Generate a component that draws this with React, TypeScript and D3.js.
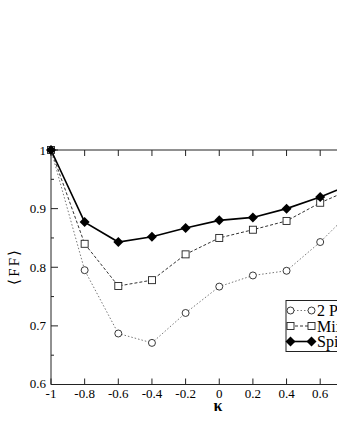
import React, { useRef, useEffect } from 'react';
import * as d3 from 'd3';

// kappa values and the three fidelity series
const kappa = [-1, -0.8, -0.6, -0.4, -0.2, 0, 0.2, 0.4, 0.6, 0.8, 1];
const twoPhoton = [1.0, 0.795, 0.687, 0.671, 0.722, 0.767, 0.786, 0.794, 0.843, 0.9, 0.95];
const mixed = [1.0, 0.84, 0.768, 0.778, 0.822, 0.85, 0.864, 0.879, 0.91, 0.935, 0.96];
const spin = [1.0, 0.877, 0.843, 0.852, 0.867, 0.88, 0.885, 0.9, 0.92, 0.943, 0.97];

const xTicks = [-1, -0.8, -0.6, -0.4, -0.2, 0, 0.2, 0.4, 0.6, 0.8, 1];
const yTicks = [0.6, 0.7, 0.8, 0.9, 1];
const yMinor = [0.65, 0.75, 0.85, 0.95];
const legendLabels = ['2 Photon', 'Mixed', 'Spin'];

const App = () => {
  const svgRef = useRef(null);

  useEffect(() => {
    const width = 337;
    const height = 436;
    const svg = d3.select(svgRef.current);
    svg.selectAll('*').remove();
    svg.attr('width', width).attr('height', height);

    const x = d3.scaleLinear().domain([-1, 1]).range([51, 387.5]);
    const y = d3.scaleLinear().domain([0.6, 1]).range([384.5, 150]);
    const font = 'Liberation Serif, Times New Roman, serif';
    const frame = '#222';

    // frame (right side falls outside the picture)
    svg.append('path')
      .attr('d', `M${x(1)},${y(1)}H${x(-1)}V${y(0.6)}H${x(1)}`)
      .attr('fill', 'none')
      .attr('stroke', frame)
      .attr('stroke-width', 1);

    // x ticks, bottom and top, pointing in
    xTicks.forEach(t => {
      svg.append('line')
        .attr('x1', x(t)).attr('x2', x(t))
        .attr('y1', y(0.6)).attr('y2', y(0.6) - 6)
        .attr('stroke', frame);
      svg.append('line')
        .attr('x1', x(t)).attr('x2', x(t))
        .attr('y1', y(1)).attr('y2', y(1) + 6)
        .attr('stroke', frame);
      // labels past the right edge are not visible anyway
      if (x(t) + 8 > width) return;
      svg.append('text')
        .attr('x', x(t))
        .attr('y', 398)
        .attr('text-anchor', 'middle')
        .attr('font-family', font)
        .attr('font-size', 13)
        .text(String(t));
    });

    yTicks.forEach(t => {
      svg.append('line')
        .attr('x1', x(-1)).attr('x2', x(-1) + 7)
        .attr('y1', y(t)).attr('y2', y(t))
        .attr('stroke', frame);
      svg.append('text')
        .attr('x', 46)
        .attr('y', y(t) + (t === 0.6 ? 3 : 4.5))
        .attr('text-anchor', 'end')
        .attr('font-family', font)
        .attr('font-size', 13)
        .text(String(t));
    });
    yMinor.forEach(t => {
      svg.append('line')
        .attr('x1', x(-1)).attr('x2', x(-1) + 3)
        .attr('y1', y(t)).attr('y2', y(t))
        .attr('stroke', frame);
    });

    // axis titles
    svg.append('text')
      .attr('x', 218)
      .attr('y', 411)
      .attr('text-anchor', 'middle')
      .attr('font-family', font)
      .attr('font-size', 16)
      .attr('font-weight', 'bold')
      .text('κ');
    svg.append('text')
      .attr('transform', `translate(18.5,${(y(0.6) + y(1)) / 2}) rotate(-90)`)
      .attr('text-anchor', 'middle')
      .attr('font-family', font)
      .attr('font-size', 15)
      .attr('textLength', 35)
      .attr('lengthAdjust', 'spacing')
      .text('⟨FF⟩');

    const plot = svg.append('g');

    const series = [
      { vals: twoPhoton, stroke: '#777', dash: '1.5,2', width: 1, shape: 'circle' },
      { vals: mixed, stroke: '#333', dash: '3,2', width: 1, shape: 'square' },
      { vals: spin, stroke: '#000', dash: null, width: 1.6, shape: 'diamond' },
    ];

    const line = d3.line<number>()
      .x((_, i) => x(kappa[i]))
      .y(d => y(d));

    series.forEach(s => {
      plot.append('path')
        .attr('d', line(s.vals))
        .attr('fill', 'none')
        .attr('stroke', s.stroke)
        .attr('stroke-width', s.width)
        .attr('stroke-dasharray', s.dash);
    });

    const drawMarker = (g, shape, cx, cy) => {
      if (shape === 'circle') {
        g.append('circle').attr('cx', cx).attr('cy', cy).attr('r', 3.5)
          .attr('fill', 'white').attr('stroke', '#222').attr('stroke-width', 0.9);
      } else if (shape === 'square') {
        g.append('rect').attr('x', cx - 3.5).attr('y', cy - 3.5)
          .attr('width', 7).attr('height', 7)
          .attr('fill', 'white').attr('stroke', '#222').attr('stroke-width', 0.9);
      } else {
        g.append('path')
          .attr('d', `M${cx},${cy - 5}L${cx + 5},${cy}L${cx},${cy + 5}L${cx - 5},${cy}Z`)
          .attr('fill', '#000');
      }
    };

    series.forEach(s => {
      s.vals.forEach((v, i) => drawMarker(plot, s.shape, x(kappa[i]), y(v)));
    });

    // legend
    const lg = svg.append('g');
    lg.append('rect')
      .attr('x', 286).attr('y', 300.5)
      .attr('width', 80).attr('height', 51)
      .attr('fill', 'white')
      .attr('stroke', frame);
    series.forEach((s, i) => {
      const ly = 310.5 + i * 15.5;
      lg.append('line')
        .attr('x1', 290).attr('x2', 312)
        .attr('y1', ly).attr('y2', ly)
        .attr('stroke', s.stroke)
        .attr('stroke-width', s.width)
        .attr('stroke-dasharray', s.dash);
      drawMarker(lg, s.shape, 290.5, ly);
      drawMarker(lg, s.shape, 311.5, ly);
      lg.append('text')
        .attr('x', 317)
        .attr('y', ly + 5.5)
        .attr('font-family', font)
        .attr('font-size', 16)
        .text(legendLabels[i]);
    });
  }, []);

  return (
    <svg ref={svgRef} style={{ position: 'absolute', left: 0, top: 0 }}></svg>
  );
};

export default App;
